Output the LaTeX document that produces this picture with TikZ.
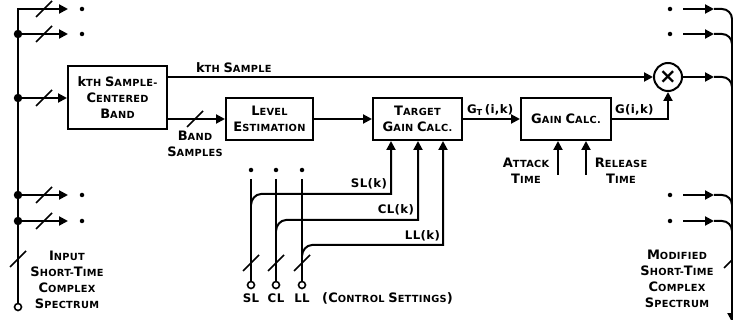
\documentclass[tikz,border=0pt]{standalone}
\usepackage{fontspec}
\setmainfont{DejaVu Sans}[LetterSpace=3]
\usetikzlibrary{arrows.meta}
\newcommand\bigc{\fontsize{13}{16}\selectfont}
\newcommand\smc{\fontsize{9.8}{16}\selectfont}
\newcommand\SC[2]{{\bigc #1}#2}
\newcommand\slashat[1]{\draw[slashmark] ([shift={(-8,8)}]#1) -- ([shift={(8,-8)}]#1);}
\begin{document}
\begin{tikzpicture}[x=1pt,y=-1pt, line width=2pt,
  arr/.style={-{Triangle[length=9pt,width=9pt]}},
  blk/.style={draw, line width=2pt, inner sep=0pt, align=center, font=\bfseries\smc},
  lbl/.style={inner sep=0pt, align=center, font=\bfseries\smc},
  sig/.style={inner sep=0pt, font=\bfseries\fontsize{11.8}{13}\selectfont},
  jdot/.style={circle, fill, inner sep=0pt, minimum size=8.5pt},
  sdot/.style={circle, fill, inner sep=0pt, minimum size=4.5pt},
  term/.style={circle, draw, fill=white, line width=1.6pt, inner sep=0pt, minimum size=7pt},
  slashmark/.style={line width=1.6pt}]
\useasboundingbox (0,0) rectangle (733,320);

% blocks
\node[blk, minimum width=99pt, minimum height=63pt] (band) at (117.5,98) {{\bigc k}TH \SC{S}{AMPLE-}\\\SC{C}{ENTERED}\\\SC{B}{AND}};
\node[blk, minimum width=87pt, minimum height=42pt] (lev) at (269.5,119) {\SC{L}{EVEL}\\\SC{E}{STIMATION}};
\node[blk, minimum width=89pt, minimum height=42pt] (tgt) at (417.5,119) {\SC{T}{ARGET}\\\SC{G}{AIN} \SC{C}{ALC}.};
\node[blk, minimum width=90pt, minimum height=42pt] (gain) at (566,119) {\SC{G}{AIN} \SC{C}{ALC}.};
\node[circle, draw, minimum size=28pt, inner sep=0pt, line width=2pt] (mult) at (668,77) {\fontsize{21}{21}\selectfont\bfseries ×};

% left input bus
\node[term] (inp) at (18,307) {};
\coordinate (lt) at (18,9);
\coordinate (a1) at (68,9);
\coordinate (a2) at (68,34);
\coordinate (a4) at (68,195);
\coordinate (a5) at (68,221);
\node[jdot] (j2) at (18,34) {};
\node[jdot] (j3) at (18,98) {};
\node[jdot] (j4) at (18,195) {};
\node[jdot] (j5) at (18,221) {};
\draw[arr] (inp.north) -- (lt) -- (a1);
\draw[arr] (j2.center) -- (a2);
\draw[arr] (j3.center) -- (band.west);
\draw[arr] (j4.center) -- (a4);
\draw[arr] (j5.center) -- (a5);
\node[sdot] (d1) at (82,9) {};
\node[sdot] (d2) at (82,34) {};
\node[sdot] (d4) at (82,195) {};
\node[sdot] (d5) at (82,221) {};
\slashat{44,9}
\slashat{44,34}
\slashat{44,98}
\slashat{44,195}
\slashat{44,221}
\slashat{18,259}
\node[lbl] (inlbl) at (67,280) {\SC{I}{NPUT}\\\SC{S}{HORT-}\SC{T}{IME}\\\SC{C}{OMPLEX}\\\SC{S}{PECTRUM}};

% main chain
\draw[arr] (band.east |- mult.west) -- (mult.west);
\node[lbl, anchor=base west] (kl) at (195,73) {{\bigc k}TH \SC{S}{AMPLE}};
\draw[arr] (band.east |- lev.west) -- (lev.west);
\slashat{195,119}
\node[lbl] (bs) at (195,144) {\SC{B}{AND}\\\SC{S}{AMPLES}};
\draw[arr] (lev.east) -- (tgt.west);
\draw[arr] (tgt.east) -- (gain.west);
\node[sig, anchor=base west] (gtl) at (466,114) {G\textsubscript{T}\,(i,k)};
\draw[arr] (gain.east) -- (gain.east -| mult.south) -- (mult.south);
\node[sig, anchor=base west] (gl) at (614,114) {G(i,k)};

% attack / release
\coordinate (at) at (558,175);
\coordinate (rt) at (586,175);
\draw[arr] (at) -- (at |- gain.south);
\draw[arr] (rt) -- (rt |- gain.south);
\node[lbl] (atl) at (526,171) {\SC{A}{TTACK}\\\SC{T}{IME}};
\node[lbl] (rtl) at (621,171) {\SC{R}{ELEASE}\\\SC{T}{IME}};

% control settings
\node[sdot] (sd) at (251,170) {};
\node[sdot] (cd) at (276,170) {};
\node[sdot] (ld) at (302,170) {};
\node[term] (st) at (251,285) {};
\node[term] (ct) at (276,285) {};
\node[term] (lt2) at (302,285) {};
\coordinate (sv) at (251,179);
\coordinate (cv) at (276,179);
\coordinate (lv) at (302,179);
\draw (sv) -- (st.north);
\draw (cv) -- (ct.north);
\draw (lv) -- (lt2.north);
\slashat{251,263}
\slashat{276,263}
\slashat{302,263}
\coordinate (s1) at (391,194);
\coordinate (c1) at (418,220);
\coordinate (l1) at (443,245);
\draw[arr] (251,205) .. controls (251,199.5) and (255.5,194) .. (261,194) -- (s1) -- (s1 |- tgt.south);
\draw[arr] (276,231) .. controls (276,225.5) and (280.5,220) .. (286,220) -- (c1) -- (c1 |- tgt.south);
\draw[arr] (302,256) .. controls (302,250.5) and (306.5,245) .. (312,245) -- (l1) -- (l1 |- tgt.south);
\node[sig, anchor=base east] (slk) at (388,188) {SL(k)};
\node[sig, anchor=base east] (clk) at (415,214) {CL(k)};
\node[sig, anchor=base east] (llk) at (441,240) {LL(k)};
\node[sig] (sll) at (251,298) {SL};
\node[sig] (cll) at (276,298) {CL};
\node[sig] (lll) at (302,298) {LL};
\node[lbl, anchor=west] (csl) at (321,298) {{\bigc(}\SC{C}{ONTROL} \SC{S}{ETTINGS}{\bigc)}};

% right output bus
\node[sdot] (rd1) at (670,9) {};
\node[sdot] (rd2) at (670,34) {};
\node[sdot] (rd4) at (670,195) {};
\node[sdot] (rd5) at (670,221) {};
\foreach \y/\n in {9/1,34/2,195/4,221/5}{
  \draw[arr] (683,\y) -- (714,\y);
  \draw (714,\y) -- (722,\y) .. controls (727.5,\y) and (732,\y+4.5) .. (732,\y+10);
}
\draw[arr] (mult.east) -- (714,77);
\draw (714,77) -- (722,77) .. controls (727.5,77) and (732,81.5) .. (732,87);
\coordinate (rv1) at (732,19);
\coordinate (rvb) at (732,322);
\draw[arr] (rv1) -- (rvb);
\slashat{732,260}
\node[lbl] (outlbl) at (677,279) {\SC{M}{ODIFIED}\\\SC{S}{HORT-}\SC{T}{IME}\\\SC{C}{OMPLEX}\\\SC{S}{PECTRUM}};
\end{tikzpicture}
\end{document}
